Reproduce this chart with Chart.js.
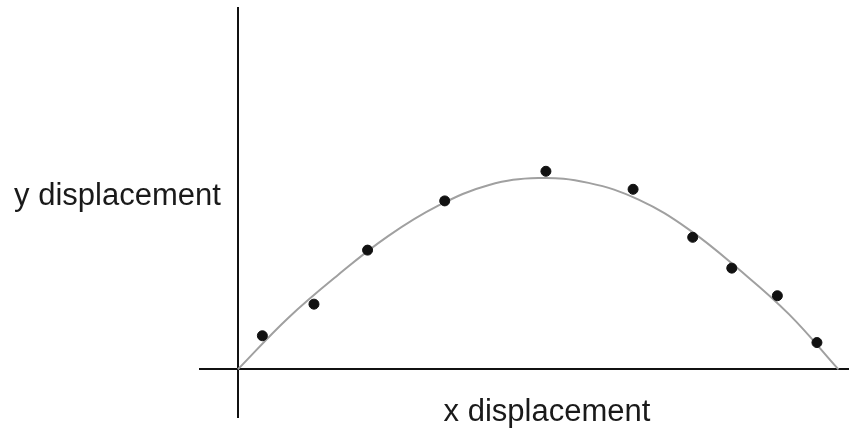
<!DOCTYPE html>
<html>
<head>
<meta charset="utf-8">
<script src="https://cdn.jsdelivr.net/npm/chart.js"></script>
<style>
  html, body { margin: 0; padding: 0; background: #fff; }
  #wrap { width: 854px; height: 432px; }
</style>
</head>
<body>
<div id="wrap"><canvas id="trajChart" width="854" height="432"></canvas></div>
<script>
// measured points (arbitrary units)
const measuredX = [0.49, 1.52, 2.59, 4.13, 6.15, 7.89, 9.08, 9.86, 10.77, 11.56];
const measuredY = [0.84, 1.63, 2.98, 4.21, 4.95, 4.50, 3.30, 2.53, 1.84, 0.67];

// fitted curve
const curveX = [0, 1, 2, 3, 4, 5, 6, 7, 8, 9, 10, 11, 11.99];
const curveY = [0, 1.28, 2.36, 3.33, 4.09, 4.60, 4.78, 4.66, 4.24, 3.50, 2.50, 1.38, 0];

const xLabel = 'x displacement';
const yLabel = 'y displacement';

const toPoints = (xs, ys) => xs.map((x, i) => ({ x: x, y: ys[i] }));

// axis labels sit beside the axes, not rotated
const axisLabels = {
    id: 'axisLabels',
    afterDraw(chart) {
        const c = chart.ctx;
        const xs = chart.scales.x;
        c.save();
        c.fillStyle = '#1a1a1a';
        c.font = '31px "Liberation Sans", Arial, sans-serif';
        c.textBaseline = 'alphabetic';
        c.textAlign = 'right';
        c.fillText(yLabel, xs.getPixelForValue(0) - 17, 205);
        c.textAlign = 'center';
        c.fillText(xLabel, 547, 421);
        c.restore();
    }
};

const ctx = document.getElementById('trajChart').getContext('2d');
const trajChart = new Chart(ctx, {
    type: 'scatter',
    data: {
        datasets: [{
            label: 'fit',
            data: toPoints(curveX, curveY),
            showLine: true,
            borderColor: '#a0a0a0',
            borderWidth: 2,
            pointRadius: 0,
            tension: 0.4,
            order: 2
        }, {
            label: 'measured',
            data: toPoints(measuredX, measuredY),
            backgroundColor: '#111',
            borderColor: '#111',
            pointRadius: 5,
            order: 1
        }]
    },
    options: {
        responsive: false,
        animation: false,
        layout: { padding: { left: 200, right: 3, top: 8, bottom: 15 } },
        plugins: {
            legend: { display: false },
            tooltip: { enabled: false }
        },
        scales: {
            x: {
                type: 'linear',
                min: -0.755,
                max: 12.18,
                position: { y: 0 },
                grid: { display: false },
                ticks: { display: false },
                border: { display: true, color: '#111', width: 2 }
            },
            y: {
                type: 'linear',
                min: -1.19,
                max: 9.03,
                position: { x: 0 },
                grid: { display: false },
                ticks: { display: false },
                border: { display: true, color: '#111', width: 2 }
            }
        }
    },
    plugins: [axisLabels]
});
</script>
</body>
</html>
